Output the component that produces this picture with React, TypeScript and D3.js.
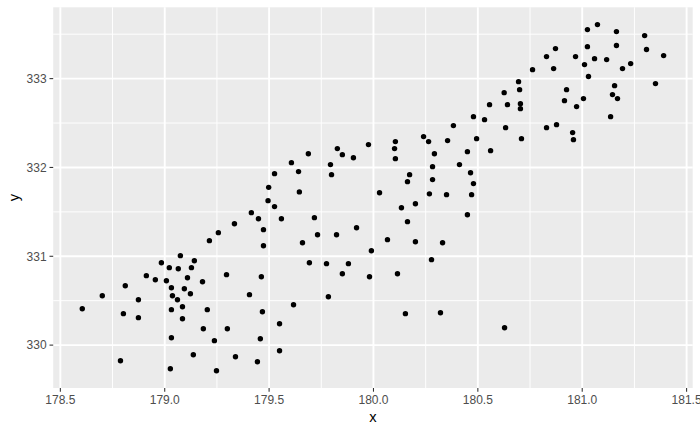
import React from "react";
import * as d3 from "d3";

const xValues: number[] = [
  180.479, 180.383, 180.494, 180.240, 180.264, 180.355, 180.105, 180.101, 180.105, 179.976,
  179.827, 179.851, 179.904, 179.794, 179.799, 179.688, 179.607, 179.641, 179.526, 179.498,
  179.645, 180.029, 180.163, 180.173, 180.283, 180.292, 180.283, 180.268, 180.350, 180.412,
  180.450, 180.465, 180.479, 180.470,
  180.532, 180.561, 180.556, 180.633, 180.642, 180.626, 180.695, 180.700, 180.704, 180.704,
  180.709, 180.762, 180.829, 180.872, 180.863, 180.829, 180.877, 180.925, 180.915, 180.973,
  180.954, 180.958, 180.968, 181.011, 181.025, 181.073, 181.025, 181.006, 181.030, 181.059,
  181.117, 181.164, 181.164, 181.193, 181.232, 181.155, 181.145, 181.169, 181.136, 181.299,
  181.308, 181.390, 181.351,
  179.415, 179.449, 179.473, 179.473, 179.334, 179.257, 179.214, 179.075, 178.984, 179.022,
  179.065, 179.128, 179.142, 178.912, 178.955, 179.008, 179.109, 179.181, 179.296, 179.463,
  178.811, 178.701, 178.605, 178.802, 178.874, 178.874, 179.032, 179.094, 179.037, 179.061,
  179.123, 179.032, 179.085, 179.204, 179.085, 179.406, 179.468, 179.185, 179.300, 179.032,
  179.238, 179.458, 179.137, 179.339, 179.444, 178.788, 179.027, 179.248,
  179.495, 179.526, 179.559, 179.717, 179.660, 179.732, 179.823, 179.919, 179.990, 179.693,
  179.775, 179.880, 179.851, 179.981, 180.067, 180.134, 180.163, 180.201, 180.201, 180.331,
  180.450, 180.278, 180.115, 179.784, 179.617, 179.550, 179.550, 180.153, 180.321,
  180.628,
];

const yValues: number[] = [
  332.572, 332.471, 332.324, 332.347, 332.291, 332.302, 332.291, 332.212, 332.099, 332.257,
  332.212, 332.144, 332.110, 332.032, 331.919, 332.155, 332.054, 331.953, 331.930, 331.776,
  331.725, 331.716, 331.840, 331.919, 332.009, 332.155, 331.863, 331.703, 331.694, 332.032,
  332.178, 331.941, 331.818, 331.694,
  332.538, 332.189, 332.707, 332.448, 332.707, 332.842, 332.966, 332.876, 332.718, 332.662,
  332.324, 333.101, 333.248, 333.338, 333.113, 332.448, 332.482, 332.876, 332.752, 332.685,
  332.392, 332.313, 333.248, 333.158, 333.552, 333.608, 333.360, 332.775, 333.023, 333.225,
  333.214, 333.529, 333.372, 333.113, 333.169, 332.921, 332.820, 332.775, 332.572, 333.484,
  333.327, 333.259, 332.944,
  331.491, 331.423, 331.300, 331.119, 331.367, 331.266, 331.176, 331.007, 330.928, 330.872,
  330.860, 330.872, 330.950, 330.782, 330.736, 330.725, 330.759, 330.714, 330.793, 330.770,
  330.669, 330.556, 330.410, 330.354, 330.511, 330.309, 330.646, 330.635, 330.556, 330.511,
  330.579, 330.399, 330.432, 330.399, 330.297, 330.568, 330.376, 330.185, 330.185, 330.083,
  330.050, 330.072, 329.892, 329.869, 329.813, 329.824, 329.734, 329.712,
  331.626, 331.559, 331.423, 331.435, 331.153, 331.243, 331.243, 331.322, 331.063, 330.928,
  330.917, 330.917, 330.804, 330.770, 331.187, 331.547, 331.390, 331.592, 331.164, 331.153,
  331.468, 330.962, 330.804, 330.545, 330.455, 330.241, 329.937, 330.354, 330.365,
  330.196,
];

const xTicks: number[] = [178.5, 179.0, 179.5, 180.0, 180.5, 181.0, 181.5];
const xMinor: number[] = [178.75, 179.25, 179.75, 180.25, 180.75, 181.25];
const yTicks: number[] = [330, 331, 332, 333];
const yMinor: number[] = [330.5, 331.5, 332.5, 333.5];
const xLabel = "x";
const yLabel = "y";

const W = 700;
const H = 432;
const panel = { left: 53.2, right: 692.7, top: 7.3, bottom: 388 };
const FONT = "'Liberation Sans', Arial, Helvetica, sans-serif";

function expand(vals: number[]): [number, number] {
  const [lo, hi] = d3.extent(vals) as [number, number];
  const pad = (hi - lo) * 0.05;
  return [lo - pad, hi + pad];
}

export default function App() {
  const x = d3.scaleLinear().domain(expand(xValues)).range([panel.left, panel.right]);
  const y = d3.scaleLinear().domain(expand(yValues)).range([panel.bottom, panel.top]);
  const pts = xValues.map((v, i) => [v, yValues[i]] as [number, number]);

  return (
    <>
      <style>{`body{margin:0}`}</style>
      <svg width={W} height={H} style={{ display: "block" }} fontFamily={FONT}>
        <rect x={0} y={0} width={W} height={H} fill="#ffffff" />
        <rect
          x={panel.left}
          y={panel.top}
          width={panel.right - panel.left}
          height={panel.bottom - panel.top}
          fill="#EBEBEB"
        />
        {xMinor.map((t) => (
          <line key={"xm" + t} x1={x(t)} x2={x(t)} y1={panel.top} y2={panel.bottom} stroke="#fff" strokeWidth={0.95} />
        ))}
        {yMinor.map((t) => (
          <line key={"ym" + t} x1={panel.left} x2={panel.right} y1={y(t)} y2={y(t)} stroke="#fff" strokeWidth={0.95} />
        ))}
        {xTicks.map((t) => (
          <line key={"xg" + t} x1={x(t)} x2={x(t)} y1={panel.top} y2={panel.bottom} stroke="#fff" strokeWidth={1.9} />
        ))}
        {yTicks.map((t) => (
          <line key={"yg" + t} x1={panel.left} x2={panel.right} y1={y(t)} y2={y(t)} stroke="#fff" strokeWidth={1.9} />
        ))}
        {pts.map(([a, b], i) => (
          <circle key={i} cx={x(a)} cy={y(b)} r={2.7} fill="#000" />
        ))}
        {xTicks.map((t) => (
          <g key={"xt" + t}>
            <line x1={x(t)} x2={x(t)} y1={panel.bottom} y2={panel.bottom + 3.7} stroke="#333333" strokeWidth={1.07} />
            <text x={x(t)} y={panel.bottom + 16.3} textAnchor="middle" fontSize={12} fill="#4D4D4D">
              {d3.format(".1f")(t)}
            </text>
          </g>
        ))}
        {yTicks.map((t) => (
          <g key={"yt" + t}>
            <line x1={panel.left - 3.7} x2={panel.left} y1={y(t)} y2={y(t)} stroke="#333333" strokeWidth={1.07} />
            <text x={panel.left - 6.6} y={y(t)} dy="0.36em" textAnchor="end" fontSize={12} fill="#4D4D4D">
              {d3.format("d")(t)}
            </text>
          </g>
        ))}
        <text x={(panel.left + panel.right) / 2} y={422} textAnchor="middle" fontSize={14.7} fill="#000">
          {xLabel}
        </text>
        <text
          transform={`translate(${18.5},${(panel.top + panel.bottom) / 2}) rotate(-90)`}
          textAnchor="middle"
          fontSize={14.7}
          fill="#000"
        >
          {yLabel}
        </text>
      </svg>
    </>
  );
}
